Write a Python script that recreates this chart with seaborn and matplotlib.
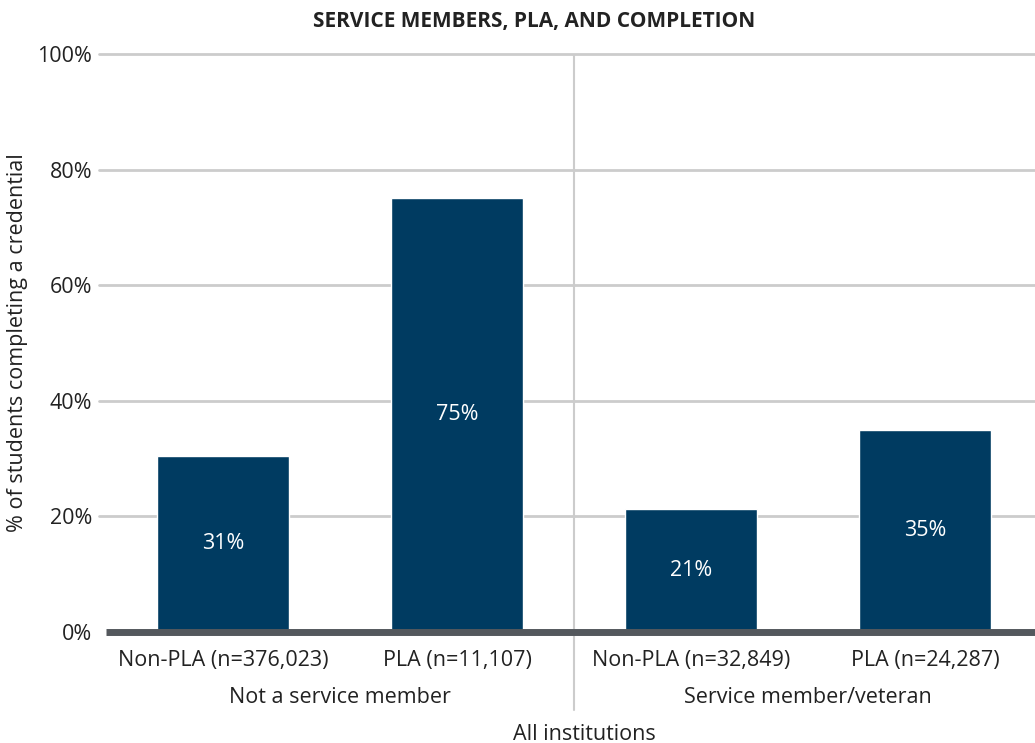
import numpy as np
import pandas as pd
import matplotlib
matplotlib.use("Agg")
import matplotlib.pyplot as plt
import matplotlib.transforms as mtransforms
import seaborn as sns

categories = ["Non-PLA (n=376,023)", "PLA (n=11,107)", "Non-PLA (n=32,849)", "PLA (n=24,287)"]
groups = ["Not a service member", "Not a service member", "Service member/veteran", "Service member/veteran"]
completion = [30.5, 75.1, 21.2, 35.0]
bar_labels = ["31%", "75%", "21%", "35%"]

df = pd.DataFrame({"Category": categories, "Group": groups, "Completion": completion})

sns.set_theme(style="white")
plt.rcParams["font.family"] = ["Open Sans", "DejaVu Sans"]

FS = 15.5
TXT = "#222222"

fig = plt.figure(figsize=(10.35, 7.43), dpi=100)
ax = fig.add_axes([106 / 1035, 1 - 632 / 743, 929 / 1035, 578 / 743])

sns.barplot(data=df, x="Category", y="Completion", color="#003b61", width=0.56,
            saturation=1, ax=ax, zorder=3)

ax.set_xlim(-0.5, 3.47)
ax.set_ylim(0, 100)
ax.set_yticks([0, 20, 40, 60, 80, 100])
ax.set_yticklabels(["0%", "20%", "40%", "60%", "80%", "100%"], fontsize=FS, color=TXT)
ax.set_xticks(range(len(categories)))
ax.set_xticklabels(categories, fontsize=FS, color=TXT)
ax.tick_params(axis="y", length=0, pad=10)
ax.tick_params(axis="x", length=0, pad=13)
ax.set_xlabel("")
ax.set_ylabel("% of students completing a credential", fontsize=FS, color=TXT)
ax.yaxis.set_label_coords(-78 / 929, 0.5)

for s in ax.spines.values():
    s.set_visible(False)

# gridlines, drawn slightly past the left edge like the original
for yv in [20, 40, 60, 80, 100]:
    ax.plot([-0.53, 3.47], [yv, yv], color="#cccccc", lw=2, zorder=1, clip_on=False)
ax.plot([-0.5, 3.47], [0, 0], color="#54585d", lw=5, zorder=4, clip_on=False, solid_capstyle="butt")

# divider between groups
ax.plot([1.5, 1.5], [0, 100], color="#cccccc", lw=1.5, zorder=1)
trans = mtransforms.blended_transform_factory(ax.transData, ax.transAxes)
ax.plot([1.5, 1.5], [0, -0.135], color="#cccccc", lw=1.5, transform=trans, clip_on=False)

for i, (v, lab) in enumerate(zip(completion, bar_labels)):
    ax.text(i, v / 2, lab, ha="center", va="center", color="white", fontsize=FS, zorder=5)

# group labels
for name, xc in [("Not a service member", 0.5), ("Service member/veteran", 2.5)]:
    ax.text(xc, -0.114, name, transform=trans, ha="center", va="center", fontsize=FS, color=TXT)

fig.text(584 / 1035, 1 - 734 / 743, "All institutions", ha="center", va="center", fontsize=FS, color=TXT)
fig.text(534 / 1035, 1 - 21 / 743, "SERVICE MEMBERS, PLA, AND COMPLETION", ha="center", va="center",
         fontsize=15, fontweight="bold", color=TXT)

fig.savefig("out.png", dpi=100)
